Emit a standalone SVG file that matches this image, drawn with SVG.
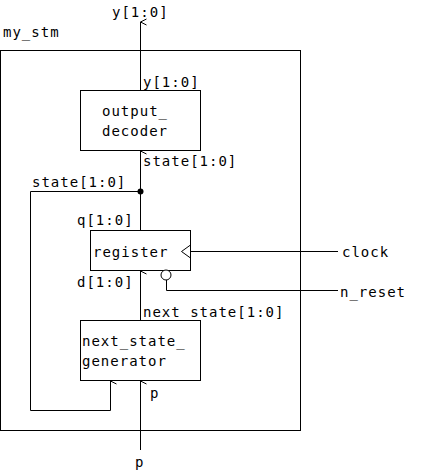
<svg xmlns="http://www.w3.org/2000/svg" width="421" height="471" viewBox="0 0 421 471">
<style>
text{font-family:"DejaVu Sans Mono",monospace;font-size:14px;letter-spacing:1px;fill:#000}
.box{fill:#fff;stroke:#000;stroke-width:1}
.w{fill:none;stroke:#000;stroke-width:1}
</style>
<defs>
<marker id="a" viewBox="0 0 10 10" refX="5" refY="1" markerWidth="10" markerHeight="10" markerUnits="userSpaceOnUse" orient="auto-start-reverse">
<path d="M2,7 L5,1 L8,7" fill="none" stroke="#000" stroke-width="1"/>
</marker>
</defs>
<rect x="0.5" y="50.5" width="300" height="380" class="w"/>
<text x="3" y="37">my_stm</text>
<g id="connectors">
<path class="w" d="M140.5,90 V22" marker-end="url(#a)"/>
<path class="w" d="M140.5,191 V151" marker-end="url(#a)"/>
<path class="w" d="M140.5,230 V191"/>
<path class="w" d="M140.5,191.5 H30.5 V410.5 H110.5 V381" marker-end="url(#a)"/>
<path class="w" d="M140.5,320 V271" marker-end="url(#a)"/>
<path class="w" d="M140.5,450 V381" marker-end="url(#a)"/>
<path class="w" d="M190,251.5 H338"/>
<path class="w" d="M166.5,280 V290.5 H338"/>
<circle cx="140.5" cy="191.5" r="3" fill="#000"/>
<text x="143" y="87">y[1:0]</text>
<text x="112" y="17">y[1:0]</text>
<text x="143" y="166">state[1:0]</text>
<text x="32" y="187">state[1:0]</text>
<text x="77" y="225">q[1:0]</text>
<text x="77" y="287">d[1:0]</text>
<text x="143" y="317">next_state[1:0]</text>
<text x="150" y="398">p</text>
<text x="135" y="467">p</text>
<text x="342" y="257">clock</text>
<text x="340" y="297">n_reset</text>
</g>
<g id="output_decoder">
<rect x="80.5" y="90.5" width="120" height="60" class="box"/>
<text x="102" y="116">output_</text>
<text x="102" y="136">decoder</text>
</g>
<g id="register">
<rect x="90.5" y="230.5" width="100" height="40" class="box"/>
<text x="93" y="257">register</text>
<path class="w" d="M190.5,245 L181.5,251.5 L190.5,258"/>
<circle cx="166" cy="275" r="5" class="box"/>
</g>
<g id="next_state_generator">
<rect x="80.5" y="320.5" width="120" height="60" class="box"/>
<text x="82" y="346">next_state_</text>
<text x="82" y="366">generator</text>
</g>
</svg>
